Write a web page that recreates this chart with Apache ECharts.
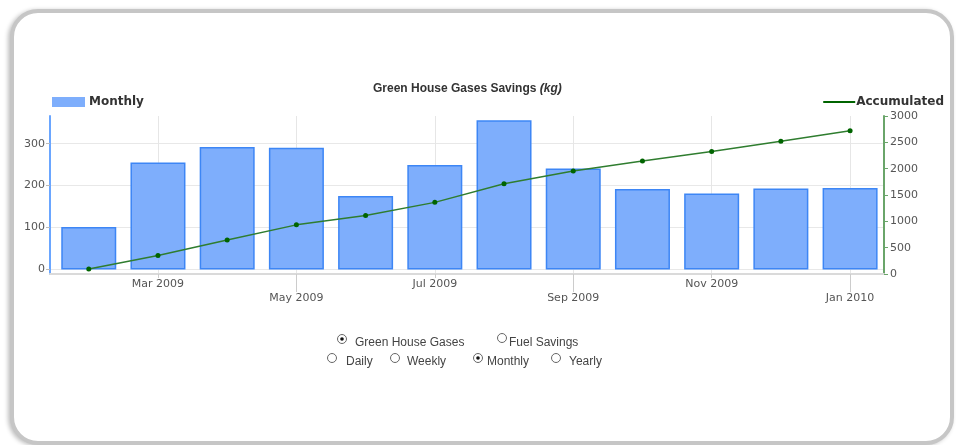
<!DOCTYPE html>
<html>
<head>
<meta charset="utf-8">
<script src="https://cdn.jsdelivr.net/npm/echarts@6/dist/echarts.min.js"></script>
<style>
  html, body { margin: 0; padding: 0; background: #fff; }
  /* rounded frame around the chart */
  #frame {
    position: absolute; left: 10px; top: 9px;
    width: 936px; height: 428px;
    border: 4px solid #c6c6c6; border-radius: 28px;
    box-shadow: -2px 1px 4px rgba(0,0,0,0.25);
    background: #fff;
  }
  #main { position: absolute; left: 0; top: 0; width: 956px; height: 445px; }
</style>
</head>
<body>
<div id="frame"></div>
<div id="main"></div>
<script>
// months on the x axis
const months = ['Feb 2009', 'Mar 2009', 'Apr 2009', 'May 2009', 'Jun 2009', 'Jul 2009',
  'Aug 2009', 'Sep 2009', 'Oct 2009', 'Nov 2009', 'Dec 2009', 'Jan 2010'];
// monthly savings (kg), left axis
const monthly = [101, 255, 292, 290, 175, 249, 356, 241, 192, 181, 193, 194];
// accumulated savings (kg), right axis
const accumulated = [95, 353, 645, 933, 1110, 1360, 1715, 1955, 2146, 2328, 2522, 2718];
// tick labels (two rows on the x axis)
const upperTicks = ['Mar 2009', 'Jul 2009', 'Nov 2009'];
const lowerTicks = ['May 2009', 'Sep 2009', 'Jan 2010'];
const leftTicks = [0, 100, 200, 300];

const upperPos = upperTicks.map(t => months.indexOf(t));
const lowerPos = lowerTicks.map(t => months.indexOf(t));

const chart = echarts.init(document.getElementById('main'));

const labelFont = { color: '#555', fontSize: 11, fontFamily: 'DejaVu Sans' };

/* radio button rows under the chart */
function radio(x, y, checked) {
  const els = [{
    type: 'circle', shape: { cx: x, cy: y, r: 4.5 },
    style: { fill: '#fff', stroke: '#666', lineWidth: 1 }
  }];
  if (checked) {
    els.push({ type: 'circle', shape: { cx: x, cy: y, r: 1.8 }, style: { fill: '#111' } });
  }
  return els;
}
function label(x, y, text) {
  return {
    type: 'text', x: x, y: y,
    style: { text: text, fill: '#444', font: '12px "Liberation Sans", Arial', verticalAlign: 'middle' }
  };
}
const radios = [].concat(
  radio(342, 339, true), [label(355, 343, 'Green House Gases')],
  radio(502, 338, false), [label(509, 343, 'Fuel Savings')],
  radio(332, 358, false), [label(346, 362, 'Daily')],
  radio(395, 358, false), [label(407, 362, 'Weekly')],
  radio(478, 358, true), [label(487, 362, 'Monthly')],
  radio(556, 358, false), [label(569, 362, 'Yearly')]
);

const option = {
  backgroundColor: 'transparent',
  animation: false,
  title: {
    text: '{a|Green House Gases Savings }{b|(kg)}',
    left: 368,
    top: 78,
    textStyle: {
      rich: {
        a: { fontFamily: 'Liberation Sans', fontWeight: 'bold', fontSize: 12, color: '#333' },
        b: { fontFamily: 'Liberation Sans', fontWeight: 'bold', fontStyle: 'italic', fontSize: 12, color: '#333' }
      }
    }
  },
  legend: [{
    data: ['Monthly'],
    left: 47, top: 91,
    icon: 'rect', itemWidth: 33, itemHeight: 10, itemGap: 0,
    itemStyle: { color: '#7eaefc', borderWidth: 0 },
    textStyle: { fontFamily: 'DejaVu Sans', fontWeight: 'bold', fontSize: 12, color: '#333', padding: [2, 0, 0, -1] }
  }, {
    data: ['Accumulated'],
    right: 7, top: 91,
    icon: 'rect', itemWidth: 32, itemHeight: 2,
    itemStyle: { color: '#006400', borderWidth: 0 },
    textStyle: { fontFamily: 'DejaVu Sans', fontWeight: 'bold', fontSize: 12, color: '#333', padding: [2, 0, 0, -4] }
  }],
  grid: { left: 50, right: 72, top: 116, bottom: 171 },
  xAxis: [{
    type: 'value', min: -0.56, max: 11.49, position: 'bottom',
    axisLine: { show: true, onZero: false, lineStyle: { color: '#dadada', width: 2 } },
    axisTick: { show: true, length: 4, customValues: upperPos, lineStyle: { color: '#ccc' } },
    axisLabel: Object.assign({ customValues: upperPos, margin: 5, formatter: v => months[Math.round(v)] }, labelFont),
    splitLine: { show: true, lineStyle: { color: '#e6e6e6' } }
  }, {
    type: 'value', min: -0.56, max: 11.49, position: 'bottom',
    axisLine: { show: false, onZero: false },
    axisTick: { show: true, length: 18, customValues: lowerPos, lineStyle: { color: '#ccc' } },
    axisLabel: Object.assign({ customValues: lowerPos, margin: 19, formatter: v => months[Math.round(v)] }, labelFont),
    splitLine: { show: true, lineStyle: { color: '#e6e6e6' } }
  }],
  yAxis: [{
    type: 'value', min: -11, max: 366, position: 'left',
    axisLine: { show: true, onZero: false, lineStyle: { color: '#6aa6ff', width: 2 } },
    axisTick: { show: true, length: 4, customValues: leftTicks, lineStyle: { color: '#bbb' } },
    axisLabel: Object.assign({ customValues: leftTicks, margin: 5, formatter: v => String(v) }, labelFont),
    splitLine: { show: true, lineStyle: { color: '#e8e8e8' } }
  }, {
    type: 'value', min: 0, max: 3000, interval: 500, position: 'right',
    axisLine: { show: true, onZero: false, lineStyle: { color: '#6aa56a', width: 2 } },
    axisTick: { show: true, length: 4, lineStyle: { color: '#6aa56a' } },
    axisLabel: Object.assign({ margin: 6, formatter: v => String(v) }, labelFont),
    splitLine: { show: false }
  }],
  series: [{
    name: 'Monthly',
    type: 'bar',
    xAxisIndex: 0, yAxisIndex: 0,
    barWidth: 55,
    data: monthly.map((v, i) => [i, v]),
    itemStyle: { color: '#7eaefc', borderColor: '#3d86f5', borderWidth: 1.5 }
  }, {
    name: 'Accumulated',
    type: 'line',
    xAxisIndex: 0, yAxisIndex: 1,
    data: accumulated.map((v, i) => [i, v]),
    symbol: 'circle', symbolSize: 5,
    lineStyle: { color: '#2f7d2f', width: 1.5 },
    itemStyle: { color: '#006400' }
  }],
  graphic: radios
};

chart.setOption(option);
</script>
</body>
</html>
